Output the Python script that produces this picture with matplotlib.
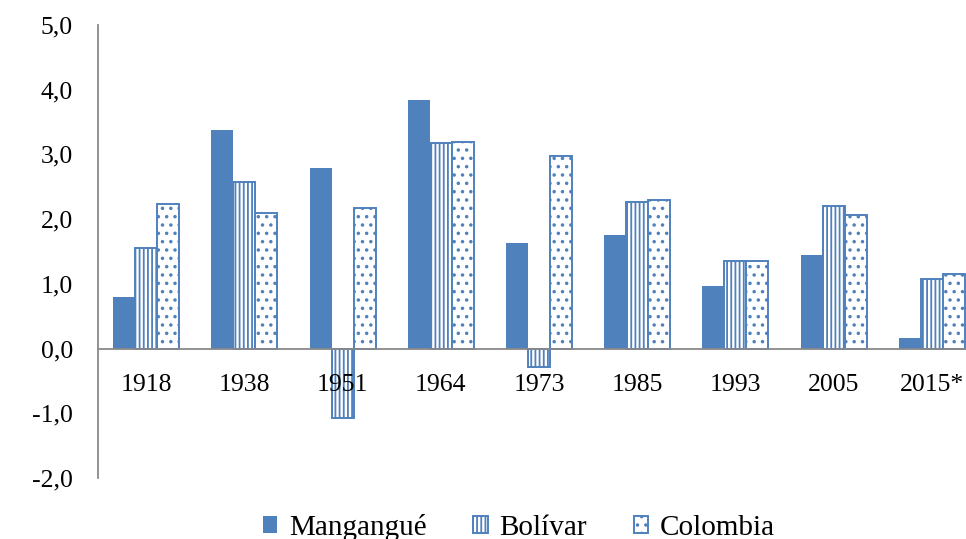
import numpy as np
import matplotlib.pyplot as plt

plt.rcParams['font.family'] = 'serif'
plt.rcParams['font.serif'] = ['Liberation Serif', 'DejaVu Serif']
plt.rcParams['hatch.linewidth'] = 1.3

years = ['1918', '1938', '1951', '1964', '1973', '1985', '1993', '2005', '2015*']
mangangue = [0.80, 3.37, 2.79, 3.84, 1.63, 1.76, 0.96, 1.44, 0.17]
bolivar = [1.55, 2.57, -1.08, 3.17, -0.29, 2.27, 1.36, 2.21, 1.08]
colombia = [2.23, 2.10, 2.17, 3.19, 2.97, 2.29, 1.35, 2.06, 1.16]

blue = '#4F81BD'
grey = '#898989'

fig = plt.figure(figsize=(9.66, 5.39), dpi=100)
ax = fig.add_axes([98 / 966, 61 / 539, 883 / 966, 453 / 539])

x = np.arange(len(years))
w = 0.224
ax.bar(x - w, mangangue, w, color=blue, label='Mangangué')
ax.bar(x, bolivar, w, facecolor='white', edgecolor=blue, hatch='||||',
       linewidth=1.4, label='Bolívar')
ax.bar(x + w, colombia, w, facecolor='white', edgecolor=blue, hatch='..',
       linewidth=1.4, label='Colombia')

ax.set_xlim(-0.49, 8.5)
ax.set_ylim(-2, 5)
ax.set_yticks(np.arange(-2, 6, 1))
ax.set_yticklabels([f'{v:.1f}'.replace('.', ',') for v in np.arange(-2, 6, 1)])
ax.set_xticks(x)
ax.set_xticklabels(years)

for s in ['top', 'right']:
    ax.spines[s].set_visible(False)
ax.spines['bottom'].set_position(('data', 0))
ax.spines['bottom'].set_color(grey)
ax.spines['bottom'].set_linewidth(1.3)
ax.spines['left'].set_color(grey)
ax.spines['left'].set_linewidth(1.3)
ax.tick_params(axis='both', length=0, labelsize=18.5)
ax.tick_params(axis='y', pad=18)
ax.tick_params(axis='x', pad=18)

fig.legend(loc='center', bbox_to_anchor=(0.537, 0.022), ncol=3, frameon=False,
           fontsize=21, handlelength=0.5, handleheight=0.5, handletextpad=0.4,
           columnspacing=1.6, borderpad=0.1)

fig.savefig('out.png', dpi=100)
